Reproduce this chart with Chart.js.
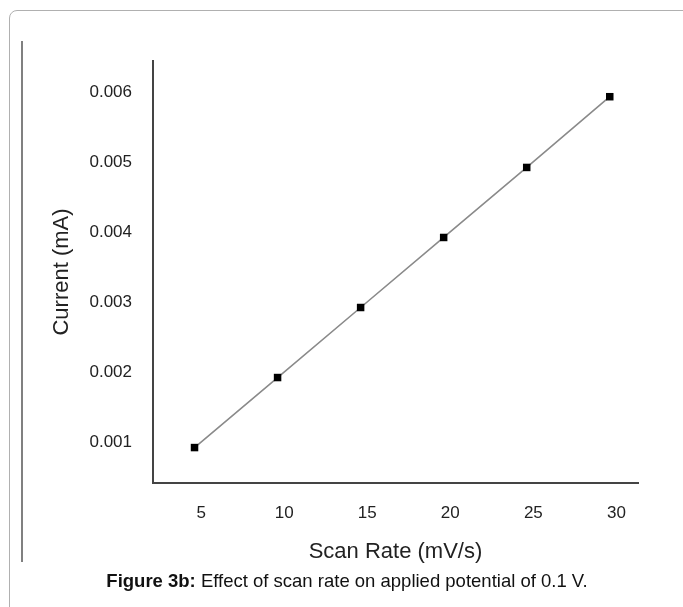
<!DOCTYPE html>
<html>
<head>
<meta charset="utf-8">
<script src="https://cdn.jsdelivr.net/npm/chart.js@4"></script>
<style>
  html, body { margin: 0; padding: 0; background: #fff; overflow: hidden; }
  #wrap { position: relative; width: 683px; height: 607px; overflow: hidden; }
  #c { position: absolute; left: 0; top: 0; }
  #frame { position: absolute; left: 9px; top: 10px; width: 700px; height: 640px;
           border: 1px solid #b0b0b0; border-radius: 8px; box-sizing: border-box; }
  #vline { position: absolute; left: 21px; top: 41px; width: 2px; height: 521px; background: #808080; }
  #caption { position: absolute; left: 0; width: 694px; top: 570px; text-align: center;
             font-family: "Liberation Sans", Arial, sans-serif; font-size: 18.5px; color: #111; }
</style>
</head>
<body>
<div id="wrap">
  <div id="frame"></div>
  <div id="vline"></div>
  <canvas id="c" width="683" height="607"></canvas>
  <div id="caption"><b>Figure 3b:</b> Effect of scan rate on applied potential of 0.1 V.</div>
</div>
<script>
// Data
const scanRate = [4.6, 9.6, 14.6, 19.6, 24.6, 29.6];
const current = [0.00092, 0.00192, 0.00292, 0.00392, 0.00492, 0.00593];
const xTickValues = [5, 10, 15, 20, 25, 30];
const xTickLabels = ["5", "10", "15", "20", "25", "30"];
const yTickValues = [0.001, 0.002, 0.003, 0.004, 0.005, 0.006];
const yTickLabels = ["0.001", "0.002", "0.003", "0.004", "0.005", "0.006"];

const FONT = "'Liberation Sans', Arial, sans-serif";

new Chart(document.getElementById('c'), {
  type: 'scatter',
  data: {
    datasets: [{
      data: scanRate.map((x, i) => ({ x: x, y: current[i] })),
      showLine: true,
      borderColor: '#8a8a8a',
      borderWidth: 1.6,
      pointStyle: 'rect',
      pointRadius: 5.3,
      pointBorderWidth: 0,
      pointBackgroundColor: '#000',
      pointBorderColor: '#000'
    }]
  },
  options: {
    responsive: false,
    animation: false,
    layout: { padding: { left: 0, top: 61, right: 45, bottom: 0 } },
    plugins: { legend: { display: false }, tooltip: { enabled: false } },
    scales: {
      x: {
        type: 'linear',
        min: 2.1,
        max: 31.3,
        grid: { display: false, drawTicks: false },
        border: { display: true, color: '#444', width: 2 },
        afterBuildTicks: s => { s.ticks = xTickValues.map(v => ({ value: v })); },
        afterFit: s => { s.height = 124; },
        ticks: {
          padding: 20,
          color: '#222',
          font: { family: FONT, size: 17 },
          callback: (v) => { const i = xTickValues.indexOf(v); return i >= 0 ? xTickLabels[i] : ''; }
        },
        title: {
          display: true,
          text: 'Scan Rate (mV/s)',
          color: '#222',
          font: { family: FONT, size: 22 },
          padding: { top: 0, bottom: 42 }
        }
      },
      y: {
        type: 'linear',
        min: 0.000414,
        max: 0.00644,
        grid: { display: false, drawTicks: false },
        border: { display: true, color: '#444', width: 2 },
        afterBuildTicks: s => { s.ticks = yTickValues.map(v => ({ value: v })); },
        afterFit: s => { s.width = 153; },
        ticks: {
          padding: 21,
          color: '#222',
          font: { family: FONT, size: 17 },
          callback: (v) => { const i = yTickValues.findIndex(t => Math.abs(t - v) < 1e-9); return i >= 0 ? yTickLabels[i] : ''; }
        },
        title: {
          display: true,
          text: 'Current (mA)',
          color: '#222',
          font: { family: FONT, size: 22 },
          padding: { top: 49, bottom: 0 }
        }
      }
    }
  }
});
</script>
</body>
</html>
